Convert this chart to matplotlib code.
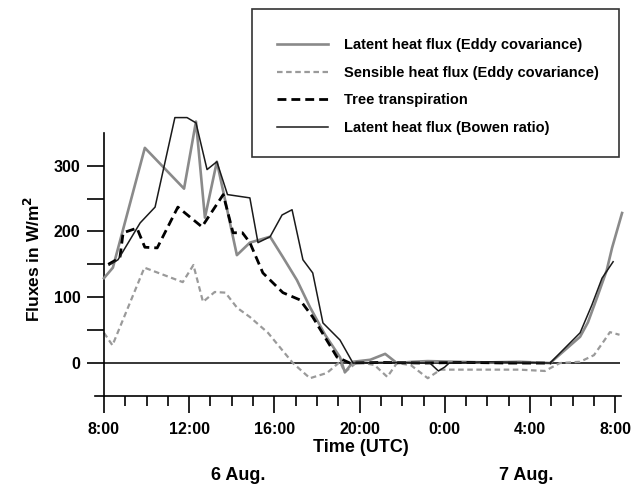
import matplotlib
matplotlib.use("Agg")
import matplotlib.pyplot as plt
from matplotlib.patches import Rectangle
from matplotlib.ticker import MultipleLocator, FixedLocator

plt.rcParams["font.family"] = ["Liberation Sans", "DejaVu Sans"]
plt.rcParams["font.weight"] = "bold"

# time in hours since 0:00 on 6 Aug (values > 24 are on 7 Aug)
le_ec_t = [8.0, 8.42, 9.92, 11.76, 12.32, 12.74, 13.3, 14.24, 14.85, 15.8, 16.4,
           17.06, 17.67, 18.38, 19.08, 19.31, 19.7, 20.5, 21.2, 21.75, 22.5,
           23.2, 24.5, 26.0, 27.5, 28.94, 30.35, 30.72, 31.15, 31.6, 31.85, 32.32]
le_ec_v = [129, 145, 327, 265, 367, 221, 306, 164, 183, 192, 161,
           126, 85, 43, 9, -14, 2, 5, 14, 0, 2,
           3, 2, 1, 2, 0, 40, 62, 100, 141, 175, 228]

h_ec_t = [8.0, 8.4, 9.9, 11.7, 12.2, 12.65, 13.2, 13.7, 14.25, 14.85, 15.7,
          16.87, 17.67, 18.47, 19.08, 19.3, 19.9, 20.7, 21.3, 21.75, 22.4,
          23.2, 23.8, 25.65, 27.5, 28.7, 29.4, 30.35, 31.0, 31.5, 31.75, 32.2]
h_ec_v = [46, 27, 145, 123, 149, 93, 108, 107, 84, 70, 46,
          0, -23, -15, 2, -14, 2, -3, -21, 0, -3,
          -23, -10, -10, -10, -12, 0, 2, 12, 35, 47, 43]

tree_t = [8.2, 8.75, 8.9, 9.55, 9.92, 10.5, 11.47, 12.6, 13.6, 14.06, 14.5,
          14.85, 15.46, 16.4, 17.2, 17.8, 18.94, 19.55, 21.0, 23.0, 25.0, 27.0, 29.0]
tree_v = [150, 160, 198, 205, 176, 175, 237, 207, 256, 198, 198,
          183, 137, 107, 96, 70, 9, 0, 1, 0, 1, 0, 0]

le_br_t = [8.25, 8.66, 9.7, 10.4, 11.33, 11.9, 12.32, 12.84, 13.3, 13.8, 14.85,
           15.23, 15.8, 16.36, 16.83, 17.34, 17.8, 18.28, 19.08, 19.69, 21.0,
           23.3, 23.7, 24.0, 24.2, 26.0, 28.94, 29.55, 30.35, 30.9, 31.38, 31.9]
le_br_v = [149, 157, 213, 237, 373, 373, 365, 294, 306, 256, 251,
           183, 192, 225, 233, 157, 137, 61, 35, 0, 1,
           0, -12, -6, 0, 2, 0, 20, 46, 88, 129, 154]

tick_hours = [8, 12, 16, 20, 24, 28, 32]
tick_labels = ["8:00", "12:00", "16:00", "20:00", "0:00", "4:00", "8:00"]
day_labels = ["6 Aug.", "7 Aug."]

fig = plt.figure(figsize=(6.32, 4.87), dpi=100)
ax = fig.add_axes([0.1503, 0.1869, 0.8323, 0.5811])

l1, = ax.plot(le_ec_t, le_ec_v, color="#8a8a8a", lw=1.9, clip_on=False, zorder=3)
l2, = ax.plot(h_ec_t, h_ec_v, color="#9a9a9a", lw=1.6, ls=(0, (2.5, 1.6)),
              clip_on=False, zorder=2)
l3, = ax.plot(tree_t, tree_v, color="black", lw=2.0, ls=(0, (3.2, 1.8)),
              clip_on=False, zorder=4)
l4, = ax.plot(le_br_t, le_br_v, color="#1a1a1a", lw=1.1, clip_on=False, zorder=5)
ax.hlines(0, 8, 32.2, color="black", lw=1.1, zorder=1)

ax.set_xlim(7.58, 32.27)
ax.set_ylim(-50, 380)

for s in ("top", "right"):
    ax.spines[s].set_visible(False)
ax.spines["left"].set_position(("data", 8))
ax.spines["left"].set_bounds(-50, 350)
ax.spines["left"].set_linewidth(1.2)
ax.spines["bottom"].set_linewidth(1.2)

ax.xaxis.set_major_locator(FixedLocator(tick_hours))
ax.set_xticklabels(tick_labels)
ax.xaxis.set_minor_locator(MultipleLocator(1))
ax.yaxis.set_major_locator(FixedLocator([0, 100, 200, 300]))
ax.yaxis.set_minor_locator(FixedLocator([50, 150, 250]))
ax.tick_params(axis="x", which="major", direction="out", length=12.5, width=1.2,
               labelsize=11.5, pad=6)
ax.tick_params(axis="x", which="minor", direction="out", length=7, width=1.2)
ax.tick_params(axis="y", which="both", direction="out", length=12, width=1.2,
               labelsize=11.5, pad=5)
for lab in ax.get_xticklabels() + ax.get_yticklabels():
    lab.set_fontweight("bold")

fig.text(361 / 632, 1 - 447 / 487, "Time (UTC)", ha="center", va="center",
         fontsize=13, fontweight="bold")
for x_px, txt in zip([238, 526], day_labels):
    fig.text(x_px / 632, 1 - 476 / 487, txt, ha="center", va="center",
             fontsize=13, fontweight="bold")
fig.text(33 / 632, 1 - 259 / 487, "Fluxes in W/m$^\\mathbf{2}$", rotation=90,
         ha="center", va="center", fontsize=12.5, fontweight="bold")

# legend box
fig.patches.append(Rectangle((252 / 632, 1 - 157 / 487), 367 / 632, 148 / 487,
                             transform=fig.transFigure, facecolor="white",
                             edgecolor="#333333", lw=1.2, zorder=10))
leg = fig.legend([l1, l2, l3, l4],
                 ["Latent heat flux (Eddy covariance)",
                  "Sensible heat flux (Eddy covariance)",
                  "Tree transpiration",
                  "Latent heat flux (Bowen ratio)"],
                 loc="upper left", bbox_to_anchor=(270 / 632, 1 - 31 / 487),
                 frameon=False, borderpad=0, handlelength=3.5, handletextpad=1.1,
                 labelspacing=0.93, prop={"size": 10.5, "weight": "bold"})
leg.set_zorder(11)

fig.savefig("out.png", dpi=100)
